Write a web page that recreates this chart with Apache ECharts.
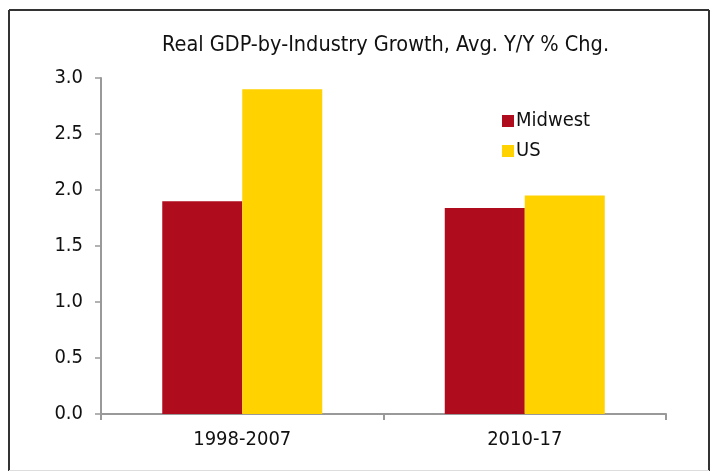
<!DOCTYPE html>
<html><head><meta charset="utf-8">
<script src="https://cdn.jsdelivr.net/npm/echarts@6/dist/echarts.min.js"></script>
<style>html,body{margin:0;padding:0;background:#fff}#c{width:711px;height:472px}</style>
</head><body><div id="c"></div>
<script>
const categories = ['1998-2007', '2010-17'];
const midwest = [1.90, 1.84];
const us = [2.90, 1.95];
const seriesNames = ['Midwest', 'US'];
const titleText = 'Real GDP-by-Industry Growth, Avg. Y/Y % Chg.';
const FONT = '"DejaVu Sans Condensed", "DejaVu Sans", sans-serif';

const chart = echarts.init(document.getElementById('c'), null, {renderer: 'canvas'});
chart.setOption({
  animation: false,
  backgroundColor: '#fff',
  title: {text: titleText, left: 157, top: 29,
    textStyle: {fontFamily: FONT, fontSize: 21.5, fontWeight: 'normal', color: '#111'}},
  legend: {orient: 'vertical', left: 497, top: 106, itemWidth: 12, itemHeight: 12, itemGap: 10,
    icon: 'rect', textStyle: {fontFamily: FONT, fontSize: 20, color: '#111', padding: [0,0,0,-3]},
    data: seriesNames},
  grid: {left: 101, right: 45, top: 78, bottom: 58},
  xAxis: {type: 'category', data: categories,
    axisLine: {lineStyle: {color: '#999', width: 2}},
    axisTick: {show: true, length: 6, lineStyle: {color: '#999', width: 2}},
    axisLabel: {fontFamily: FONT, fontSize: 20, color: '#111', margin: 16}},
  yAxis: {type: 'value', min: 0, max: 3, interval: 0.5,
    axisLine: {show: true, lineStyle: {color: '#999', width: 2}},
    axisTick: {show: true, length: 6, lineStyle: {color: '#999', width: 1.5}},
    splitLine: {show: false},
    axisLabel: {fontFamily: FONT, fontSize: 20, color: '#111', margin: 18,
      formatter: v => v.toFixed(1)}},
  series: [
    {name: seriesNames[0], type: 'bar', data: midwest, barWidth: 80, barGap: '0%',
      itemStyle: {color: '#AF0D1E'}},
    {name: seriesNames[1], type: 'bar', data: us, barWidth: 80, barGap: '0%',
      itemStyle: {color: '#FFD200'}}
  ],
  graphic: [
    {type: 'line', shape: {x1: 9, y1: 10, x2: 709, y2: 10}, style: {stroke: '#333', lineWidth: 2}, z: 100},
    {type: 'line', shape: {x1: 9, y1: 10, x2: 9, y2: 471}, style: {stroke: '#333', lineWidth: 2}, z: 100},
    {type: 'line', shape: {x1: 709, y1: 10, x2: 709, y2: 471}, style: {stroke: '#333', lineWidth: 2}, z: 100},
    {type: 'line', shape: {x1: 9, y1: 470.5, x2: 709, y2: 470.5}, style: {stroke: '#ddd', lineWidth: 1}, z: 100}
  ]
});
</script></body></html>
